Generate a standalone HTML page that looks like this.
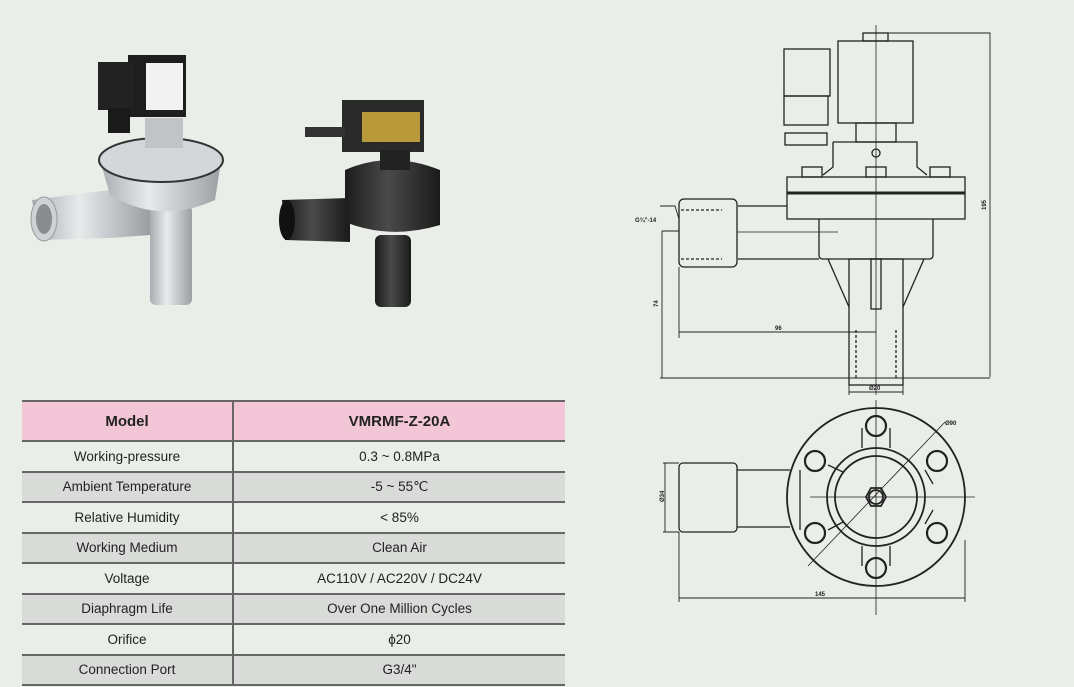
<!DOCTYPE html>
<html><head><meta charset="utf-8"><style>
body{margin:0;width:1074px;height:687px;background:#e9eee8;overflow:hidden;font-family:"Liberation Sans",sans-serif;position:relative}
svg{position:absolute;left:0;top:0}
table{position:absolute;left:22px;top:400px;width:543px;border-collapse:collapse;font-size:13.5px;color:#222}
td{border-bottom:2px solid #666;text-align:center;padding:0;height:28.5px}
td:first-child{width:210px;border-right:2px solid #666}
tr.h td{background:#f2c6d6;height:38px;font-weight:bold;font-size:15px;border-top:2px solid #666}
tr.g td{background:#d9dbd8}
</style></head><body>
<svg width="1074" height="687" viewBox="0 0 1074 687">
<defs>
<linearGradient id="si" x1="0" x2="1"><stop offset="0" stop-color="#a9adb0"/><stop offset=".4" stop-color="#e8eaec"/><stop offset="1" stop-color="#9a9ea2"/></linearGradient>
<linearGradient id="bk" x1="0" x2="1"><stop offset="0" stop-color="#1c1c1c"/><stop offset=".45" stop-color="#4a4a4a"/><stop offset="1" stop-color="#1a1a1a"/></linearGradient>
</defs>
<!-- silver valve -->
<rect x="150" y="205" width="42" height="100" rx="6" fill="url(#si)"/>
<path d="M32 200 L110 190 L130 200 L150 200 L150 235 L110 238 L40 240 Z" fill="url(#si)"/>
<ellipse cx="44" cy="219" rx="13" ry="22" fill="#cfd2d4" stroke="#999"/>
<ellipse cx="44" cy="219" rx="8" ry="15" fill="#8a8d90"/>
<path d="M100 160 Q160 130 222 155 L215 200 Q160 225 110 195 Z" fill="url(#si)"/>
<ellipse cx="161" cy="160" rx="62" ry="22" fill="#d4d7da" stroke="#333" stroke-width="2"/>
<rect x="145" y="118" width="38" height="30" fill="#c0c4c6"/>
<rect x="128" y="55" width="58" height="62" fill="#1e1e1e"/>
<rect x="146" y="63" width="37" height="47" fill="#f2f2f2"/>
<rect x="98" y="62" width="35" height="48" fill="#222"/>
<rect x="108" y="108" width="22" height="25" fill="#1a1a1a"/>
<!-- black valve -->
<rect x="375" y="235" width="36" height="72" rx="6" fill="url(#bk)"/>
<path d="M282 200 L350 198 L350 242 L285 240 Z" fill="url(#bk)"/>
<ellipse cx="287" cy="220" rx="8" ry="20" fill="#111"/>
<path d="M345 170 Q390 150 440 170 L440 225 Q390 240 345 222 Z" fill="url(#bk)"/>
<rect x="342" y="100" width="82" height="52" fill="#2a2a2a"/>
<rect x="362" y="112" width="58" height="30" fill="#b89a3a"/>
<rect x="305" y="127" width="40" height="10" fill="#333"/>
<rect x="380" y="150" width="30" height="20" fill="#222"/>

<g fill="none" stroke="#222" stroke-width="1.3">
<!-- side view -->
<rect x="863" y="33" width="25" height="8"/>
<rect x="838" y="41" width="75" height="82"/>
<rect x="784" y="49" width="46" height="47"/>
<rect x="784" y="96" width="44" height="29"/>
<rect x="785" y="133" width="42" height="12"/>
<rect x="856" y="123" width="40" height="19"/>
<path d="M833 142 H917 V167 L927 175 M833 142 V167 L823 175"/>
<circle cx="876" cy="153" r="4"/>
<rect x="802" y="167" width="20" height="10"/><rect x="866" y="167" width="20" height="10"/><rect x="930" y="167" width="20" height="10"/>
<rect x="787" y="177" width="178" height="42"/>
<line x1="787" y1="193" x2="965" y2="193" stroke-width="3"/>
<path d="M819 219 V255 Q819 259 823 259 H929 Q933 259 933 255 V219"/>
<path d="M738 206 H787 M738 259 H819"/>
<rect x="679" y="199" width="58" height="68" rx="5"/>
<path d="M681 210 H722 M681 259 H722" stroke-dasharray="3 2"/>
<rect x="849" y="259" width="54" height="126"/>
<path d="M828 259 L849 307 M924 259 L903 307"/>
<rect x="871" y="259" width="10" height="50"/>
<path d="M856 330 V380 M896 330 V380" stroke-dasharray="3 2"/>
<path d="M876 25 V395" stroke-width=".8"/>
<path d="M737 232 H838" stroke-width=".8"/>
<path d="M888 33 H990 V377 M660 378 H990 M662 231 V378 M662 231 H679 M679 267 V338 M679 332 H876 M849 385 V395 M903 385 V395 M849 392 H903 M660 206 L675 206 L679 219" stroke-width=".9"/>
<!-- bottom view -->
<g stroke-width="1.8">
<circle cx="876" cy="497" r="89"/>
<circle cx="876" cy="497" r="49"/>
<circle cx="876" cy="497" r="41"/>
<polygon points="886,497 881,506 871,506 866,497 871,488 881,488"/>
<circle cx="876" cy="497" r="7"/>
</g>
<g stroke-width="2.2">
<circle cx="876" cy="426" r="10"/><circle cx="876" cy="568" r="10"/>
<circle cx="815" cy="461" r="10"/><circle cx="937" cy="461" r="10"/>
<circle cx="815" cy="533" r="10"/><circle cx="937" cy="533" r="10"/>
</g>
<path d="M862 428 V448 M890 428 V448 M862 546 V566 M890 546 V566 M828 465 L843 472 M925 470 L933 484 M828 530 L843 522 M925 524 L933 510"/>
<path d="M800 470 V530"/>
<rect x="679" y="463" width="58" height="69" rx="4"/>
<path d="M737 470 H790 M737 527 H790"/>
<path d="M810 497 H975 M876 400 V615 M808 566 L945 422" stroke-width=".8"/>
<path d="M665 463 V532 M663 463 H679 M663 532 H679 M679 532 V602 M965 540 V602 M679 598 H965" stroke-width=".9"/>
</g>
<g font-size="6" fill="#222" font-weight="bold">
<text x="635" y="222">G¾"-14</text>
<text x="775" y="330">96</text>
<text x="869" y="390">Ø20</text>
<text x="945" y="425">Ø90</text>
<text x="815" y="596">145</text>
<text transform="translate(658,307) rotate(-90)">74</text>
<text transform="translate(986,210) rotate(-90)">195</text>
<text transform="translate(664,502) rotate(-90)">Ø34</text>
</g>
</svg>
<table>
<tr class="h"><td>Model</td><td>VMRMF-Z-20A</td></tr>
<tr><td>Working-pressure</td><td>0.3 ~ 0.8MPa</td></tr>
<tr class="g"><td>Ambient Temperature</td><td>-5 ~ 55℃</td></tr>
<tr><td>Relative Humidity</td><td>&lt; 85%</td></tr>
<tr class="g"><td>Working Medium</td><td>Clean Air</td></tr>
<tr><td>Voltage</td><td>AC110V / AC220V / DC24V</td></tr>
<tr class="g"><td>Diaphragm Life</td><td>Over One Million Cycles</td></tr>
<tr><td>Orifice</td><td>ϕ20</td></tr>
<tr class="g"><td>Connection Port</td><td>G3/4"</td></tr>
</table>
</body></html>
